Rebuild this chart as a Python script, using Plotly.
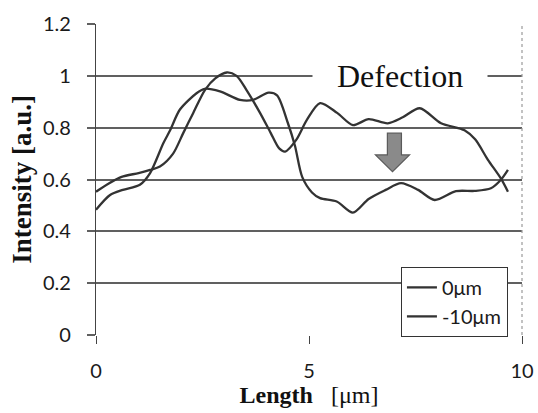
import plotly.graph_objects as go

# Series: 0um (upper at right), -10um (lower at right)
x_0um = [0, 0.3, 0.6, 1.0, 1.27, 1.5, 1.81, 2.05, 2.28, 2.56, 2.8, 3.07, 3.3, 3.53,
         3.85, 4.1, 4.3, 4.44, 4.7, 4.95, 5.26, 5.66, 6.03, 6.4, 6.85, 7.2, 7.6,
         8.1, 8.65, 8.9, 9.2, 9.5, 9.67]
y_0um = [0.553, 0.585, 0.61, 0.625, 0.637, 0.65, 0.70, 0.78, 0.856, 0.946, 0.99, 1.013,
         1.0, 0.946, 0.857, 0.78, 0.72, 0.708, 0.753, 0.83, 0.895, 0.857, 0.81, 0.833,
         0.817, 0.84, 0.875, 0.817, 0.79, 0.755, 0.676, 0.605, 0.553]

x_m10um = [0, 0.33, 0.63, 1.03, 1.27, 1.58, 1.74, 1.97, 2.36, 2.55, 2.91, 3.38, 3.69,
           4.05, 4.25, 4.5, 4.67, 4.84, 5.07, 5.26, 5.65, 6.03, 6.4, 6.8, 7.16, 7.56,
           7.95, 8.45, 8.89, 9.27, 9.5, 9.67]
y_m10um = [0.483, 0.54, 0.56, 0.58, 0.625, 0.74, 0.79, 0.87, 0.933, 0.95, 0.94, 0.907,
           0.907, 0.935, 0.925, 0.82, 0.73, 0.61, 0.55, 0.528, 0.515, 0.472, 0.525,
           0.56, 0.586, 0.56, 0.521, 0.555, 0.556, 0.566, 0.598, 0.637]

series_names = ["0μm", "-10μm"]
x_ticks = [0, 5, 10]
y_ticks = [0, 0.2, 0.4, 0.6, 0.8, 1.0, 1.2]
annotation_text = "Defection"

# arrow outline (data units)
arrow_x = [6.84, 7.17, 7.17, 7.36, 6.96, 6.56, 6.84]
arrow_y = [0.779, 0.779, 0.695, 0.695, 0.63, 0.695, 0.695]

line_color = "#333333"
grid_color = "#606060"

fig = go.Figure()
fig.add_trace(go.Scatter(x=x_0um, y=y_0um, mode="lines", name=series_names[0],
                         line=dict(color=line_color, width=2.3, shape="spline", smoothing=0.8)))
fig.add_trace(go.Scatter(x=x_m10um, y=y_m10um, mode="lines", name=series_names[1],
                         line=dict(color=line_color, width=2.3, shape="spline", smoothing=0.8)))

path = "M " + " L ".join(f"{a},{b}" for a, b in zip(arrow_x, arrow_y)) + " Z"
fig.add_shape(type="path", path=path, xref="x", yref="y",
              fillcolor="#8a8a8a", line=dict(color="#5a5a5a", width=1.2))

# right border of plot area
fig.add_shape(type="line", xref="paper", yref="paper", x0=1, x1=1, y0=0, y1=1,
              line=dict(color="#9a9a9a", width=1.2, dash="dot"))

fig.add_annotation(x=7.14, y=1.0, xref="x", yref="y",
                   text="\u00a0\u00a0\u00a0" + annotation_text + "\u00a0\u00a0\u00a0",
                   showarrow=False, bgcolor="white", borderpad=0,
                   font=dict(family="Liberation Serif", size=32, color="#111"))

fig.update_layout(
    width=538, height=413,
    margin=dict(l=96, r=16, t=24, b=78),
    paper_bgcolor="white", plot_bgcolor="white",
    showlegend=True,
    legend=dict(x=0.967, y=0.219, xanchor="right", yanchor="top",
                bgcolor="white", bordercolor="#333", borderwidth=1,
                font=dict(family="Lato", size=20, color="#1a1a1a"),
                itemwidth=30, tracegroupgap=0),
    font=dict(family="Lato", color="#1a1a1a"),
)

fig.update_xaxes(range=[0, 10], tickvals=x_ticks, ticks="outside", ticklen=8,
                 tickcolor="#444", tickwidth=1.2, showgrid=False, zeroline=False,
                 showline=False, ticklabelstandoff=10, automargin=False,
                 tickfont=dict(family="Lato", size=20, color="#1a1a1a"),
                 title=dict(text="<b>Length</b>\u00a0\u00a0\u00a0[μm]", standoff=4,
                            font=dict(family="Liberation Serif", size=24, color="#111")))

fig.update_yaxes(range=[0, 1.2001], tickvals=y_ticks, ticks="outside", ticklen=8,
                 tickcolor=grid_color, tickwidth=1.6, showgrid=True, gridcolor=grid_color,
                 gridwidth=1.6, zeroline=False, showline=True, linecolor="#444",
                 linewidth=1.3, ticklabelstandoff=12, automargin=False,
                 tickfont=dict(family="Lato", size=20, color="#1a1a1a"),
                 title=dict(text="<b>Intensity [a.u.]</b>", standoff=3,
                            font=dict(family="Liberation Serif", size=27, color="#111")))

fig.write_html("out.html")
